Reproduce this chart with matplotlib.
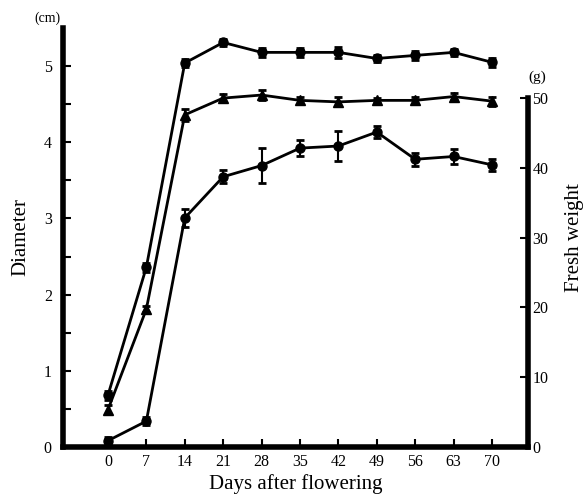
import matplotlib.pyplot as plt
import numpy as np

# days after flowering
days = [0, 7, 14, 21, 28, 35, 42, 49, 56, 63, 70]

# diameter (cm), two series
diam_a = [0.68, 2.36, 5.04, 5.31, 5.18, 5.18, 5.18, 5.10, 5.14, 5.18, 5.05]
diam_a_err = [0.06, 0.06, 0.05, 0.05, 0.06, 0.06, 0.07, 0.05, 0.06, 0.05, 0.06]
diam_b = [0.49, 1.81, 4.36, 4.58, 4.62, 4.55, 4.53, 4.55, 4.55, 4.60, 4.54]
diam_b_err = [0.06, 0.04, 0.08, 0.05, 0.06, 0.05, 0.06, 0.03, 0.05, 0.05, 0.06]

# fresh weight (g)
weight = [0.9, 3.7, 32.8, 38.7, 40.3, 42.8, 43.1, 45.1, 41.2, 41.6, 40.4]
weight_err = [0.5, 0.6, 1.3, 0.9, 2.5, 1.1, 2.1, 0.9, 0.9, 1.1, 0.9]

xticks = [0, 7, 14, 21, 28, 35, 42, 49, 56, 63, 70]

plt.rcParams['font.family'] = ['Liberation Serif', 'DejaVu Serif']

fig = plt.figure(figsize=(5.83, 5.0), dpi=100)
ax = fig.add_axes([0.108, 0.106, 0.798, 0.838])
ax2 = ax.twinx()

style = dict(color='black', lw=2, markersize=6.5, capsize=3, capthick=2, elinewidth=1.5)
ax.errorbar(days, diam_a, yerr=diam_a_err, marker='o', **style)
ax.errorbar(days, diam_b, yerr=diam_b_err, marker='^', **style)
ax2.errorbar(days, weight, yerr=weight_err, marker='o', **style)

ax.set_xlim(-8.2, 76.6)
ax.set_ylim(0, 5.5)
ax2.set_ylim(0, 60)

ax.set_xticks(xticks)
ax.set_yticks([0, 1, 2, 3, 4, 5])
ax.set_yticks(np.arange(0.5, 5.5, 1.0), minor=True)
ax2.set_yticks([0, 10, 20, 30, 40, 50])

for a in (ax, ax2):
    a.spines['top'].set_visible(False)
ax.spines['right'].set_visible(False)
ax2.spines['left'].set_visible(False)
ax2.spines['bottom'].set_visible(False)
ax.spines['left'].set_linewidth(4)
ax.spines['bottom'].set_linewidth(4)
ax2.spines['right'].set_linewidth(4)
ax2.spines['right'].set_bounds(0, 50)

ax.tick_params(axis='both', which='major', direction='in', length=6, width=1.5, labelsize=11.5)
ax.tick_params(axis='y', which='minor', direction='in', length=6, width=1.5)
ax.tick_params(axis='x', pad=5)
ax.tick_params(axis='y', pad=8)
ax2.tick_params(axis='y', direction='in', length=6, width=1.5, labelsize=11.5, pad=3)

ax.set_xlabel('Days after flowering', fontsize=15, labelpad=3)
ax.set_ylabel('Diameter', fontsize=15, labelpad=10)
ax2.set_ylabel('Fresh weight', fontsize=15, labelpad=12)

fig.text(0.082, 0.964, '(cm)', fontsize=10, ha='center', va='center')
fig.text(0.922, 0.845, '(g)', fontsize=11, ha='center', va='center')

fig.savefig('out.png', dpi=100)
